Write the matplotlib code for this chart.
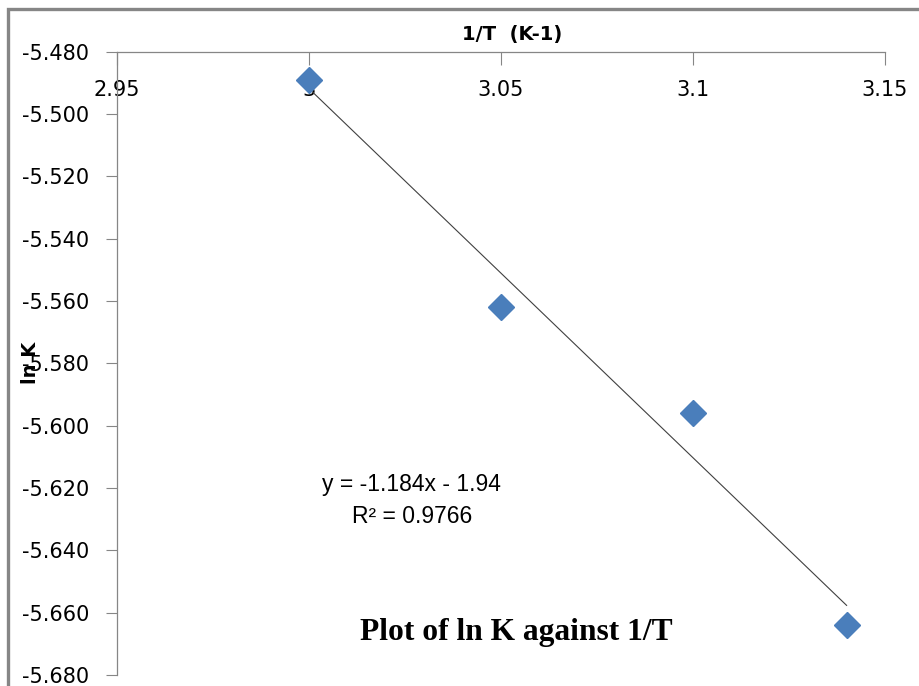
import matplotlib
matplotlib.use("Agg")
import matplotlib.pyplot as plt
import numpy as np
from matplotlib.patches import Rectangle

# data
inv_T = [3.00, 3.05, 3.10, 3.14]
ln_K = [-5.489, -5.562, -5.596, -5.664]
y_ticks = [-5.68, -5.66, -5.64, -5.62, -5.60, -5.58, -5.56, -5.54, -5.52, -5.50, -5.48]
x_ticks = [2.95, 3.0, 3.05, 3.1, 3.15]
x_tick_labels = ["2.95", "3", "3.05", "3.1", "3.15"]

grey = "#868686"
blue = "#4a7ebb"

fig = plt.figure(figsize=(9.2, 6.86), dpi=100)
ax = fig.add_axes([117 / 920, 1 - 675 / 686, 768 / 920, 623.5 / 686])

# outer chart frame (cut off at right and bottom)
fig.patches.append(Rectangle((8 / 920, -0.1), 1.2, 1 - 9 / 686 + 0.1,
                             transform=fig.transFigure, fill=False,
                             edgecolor=grey, linewidth=2.4))

# linear trend line
slope, intercept = np.polyfit(inv_T, ln_K, 1)
xs = np.array([inv_T[0], inv_T[-1]])
ax.plot(xs, slope * xs + intercept, color="#404040", linewidth=0.8, zorder=2)

ax.plot(inv_T, ln_K, linestyle="none", marker="D", markersize=13.5,
        color=blue, markeredgecolor=blue, zorder=3)

ax.set_xlim(2.95, 3.15)
ax.set_ylim(-5.68, -5.48)

ax.xaxis.tick_top()
ax.set_xticks(x_ticks)
ax.set_xticklabels(x_tick_labels)
ax.tick_params(axis="x", direction="in", length=9, width=0.8, color=grey,
               pad=-35, labelsize=15)
ax.set_yticks(y_ticks)
ax.set_yticklabels(["%.3f" % v for v in y_ticks])
ax.tick_params(axis="y", direction="out", length=8, width=0.8, color=grey,
               pad=12, labelsize=15)

for side in ["right", "bottom"]:
    ax.spines[side].set_visible(False)
for side in ["left", "top"]:
    ax.spines[side].set_color(grey)
    ax.spines[side].set_linewidth(0.9)

ax.xaxis.set_label_position("top")
ax.set_xlabel("1/T  (K-1)", fontsize=14, fontweight="bold")
ax.xaxis.set_label_coords(0.515, 1.018)
ax.set_ylabel("ln K", fontsize=14, fontweight="bold")
ax.yaxis.set_label_coords(-0.1, 0.5)

eq = "y = %.3fx - %.2f" % (slope, abs(intercept))
ax.text(0.384, 0.28, eq + "\nR² = 0.9766", transform=ax.transAxes,
        ha="center", va="center", fontsize=16.5, family="Liberation Sans",
        linespacing=1.5)

ax.text(0.52, 0.068, "Plot of ln K against 1/T", transform=ax.transAxes,
        ha="center", va="center", fontsize=22.7, fontweight="bold",
        family="Liberation Serif")

fig.savefig("out.png", dpi=100)
